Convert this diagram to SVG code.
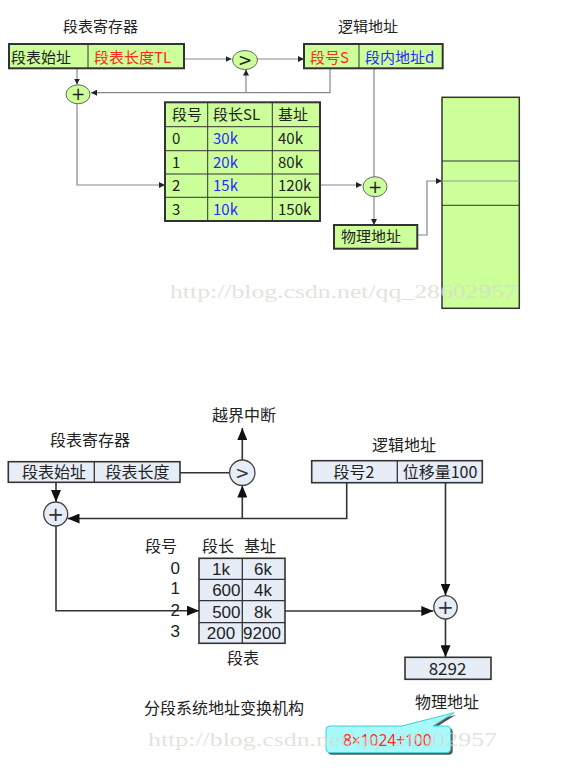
<svg xmlns="http://www.w3.org/2000/svg" width="571" height="783" viewBox="0 0 571 783">
<style>
text{font-family:"Noto Sans CJK SC","Noto Sans",sans-serif;fill:#222}
.t{font-size:15px}
.b{font-size:16px}
.n{font-family:"Liberation Sans",Arial,sans-serif;font-size:17px}
.red{fill:#ff2a1a}
.blue{fill:#2a2aff}
.g{fill:#ccff99;stroke:#333;stroke-width:2}
.gc{fill:#ccff99;stroke:#666;stroke-width:1}
.gl{fill:none;stroke:#888;stroke-width:1.2}
.bx{fill:#e6edf7;stroke:#333;stroke-width:1.6}
.bc{fill:#e6edf7;stroke:#444;stroke-width:1.3}
.bl{fill:none;stroke:#333;stroke-width:1.6}
.op{font-family:"DejaVu Sans",sans-serif;text-anchor:middle}
.wm{font-family:"Liberation Serif",serif;font-size:18px;fill:#d8d8d0;opacity:0.7}
</style>
<defs>
<marker id="sa" markerUnits="userSpaceOnUse" markerWidth="7" markerHeight="6" refX="6" refY="3" orient="auto"><path d="M0,0 L6,3 L0,6 z" fill="#222"/></marker>
<marker id="ba" markerUnits="userSpaceOnUse" markerWidth="13" markerHeight="10" refX="12" refY="5" orient="auto"><path d="M0,0 L12,5 L0,10 z" fill="#111"/></marker>
</defs>

<!-- TOP DIAGRAM -->
<g id="top-connectors">
<path class="gl" d="M184,59 H231.5" marker-end="url(#sa)"/>
<path class="gl" d="M257.5,59 H304" marker-end="url(#sa)"/>
<path class="gl" d="M330,68.3 V92.7 H91" marker-end="url(#sa)"/>
<path class="gl" d="M246,92.7 V69.5" marker-end="url(#sa)"/>
<path class="gl" d="M77,68.3 V84.5" marker-end="url(#sa)"/>
<path class="gl" d="M77,104 V185 H165" marker-end="url(#sa)"/>
<path class="gl" d="M320,185 H362" marker-end="url(#sa)"/>
<path class="gl" d="M374,68.3 V177"/>
<path class="gl" d="M374,196.7 V225" marker-end="url(#sa)"/>
<path class="gl" d="M417,235 H427 V181 H442" marker-end="url(#sa)"/>
</g>
<g id="top-register">
<text class="t" x="63" y="32">段表寄存器</text>
<rect class="g" x="9" y="44" width="175" height="24.3"/>
<line x1="88" y1="44" x2="88" y2="68.3" stroke="#333" stroke-width="1"/>
<text class="t" x="11" y="63">段表始址</text>
<text class="t red" x="94" y="63">段表长度TL</text>
</g>
<g id="top-compare">
<ellipse class="gc" cx="245" cy="60" rx="12.5" ry="9.5"/>
<text class="op" x="245" y="66" style="font-size:17px">&gt;</text>
</g>
<g id="top-plus1">
<ellipse class="gc" cx="78" cy="94.3" rx="12" ry="9.5"/>
<text class="op" x="78" y="100.3" style="font-size:17px">+</text>
</g>
<g id="top-logical">
<text class="t" x="338" y="32">逻辑地址</text>
<rect class="g" x="304" y="44" width="138.7" height="24.3"/>
<line x1="359" y1="44" x2="359" y2="68.3" stroke="#333" stroke-width="1"/>
<text class="t red" x="310" y="63">段号S</text>
<text class="t blue" x="365" y="63">段内地址d</text>
</g>
<g id="top-table">
<rect class="g" x="165" y="102.3" width="155" height="118.7"/>
<g stroke="#333" stroke-width="1">
<line x1="207.7" y1="102.3" x2="207.7" y2="221"/>
<line x1="272.3" y1="102.3" x2="272.3" y2="221"/>
<line x1="165" y1="126.7" x2="320" y2="126.7"/>
<line x1="165" y1="150.7" x2="320" y2="150.7"/>
<line x1="165" y1="174" x2="320" y2="174"/>
<line x1="165" y1="197.3" x2="320" y2="197.3"/>
</g>
<text class="t" x="172" y="120">段号</text><text class="t" x="213" y="120">段长SL</text><text class="t" x="278" y="120">基址</text>
<text class="t" x="172" y="144">0</text><text class="t blue" x="213" y="144">30k</text><text class="t" x="278" y="144">40k</text>
<text class="t" x="172" y="167.5">1</text><text class="t blue" x="213" y="167.5">20k</text><text class="t" x="278" y="167.5">80k</text>
<text class="t" x="172" y="191">2</text><text class="t blue" x="213" y="191">15k</text><text class="t" x="278" y="191">120k</text>
<text class="t" x="172" y="214.5">3</text><text class="t blue" x="213" y="214.5">10k</text><text class="t" x="278" y="214.5">150k</text>
</g>
<g id="top-plus2">
<ellipse class="gc" cx="375" cy="186.7" rx="12" ry="10"/>
<text class="op" x="375" y="192.8" style="font-size:17px">+</text>
</g>
<g id="top-physical">
<rect class="g" x="334" y="225" width="83.3" height="23.7"/>
<text class="t" x="341" y="242">物理地址</text>
</g>
<g id="top-memory">
<rect x="442" y="97.3" width="77.3" height="211" fill="#ccff99" stroke="#333" stroke-width="1.5"/>
<line x1="442" y1="161" x2="519.3" y2="161" stroke="#333" stroke-width="1"/>
<line x1="442" y1="181" x2="519.3" y2="181" stroke="#999" stroke-width="1"/>
<line x1="442" y1="205.3" x2="519.3" y2="205.3" stroke="#333" stroke-width="1"/>
</g>
<text class="wm" x="170" y="298" textLength="347" lengthAdjust="spacingAndGlyphs">http://blog.csdn.net/qq_28602957</text>

<!-- BOTTOM DIAGRAM -->
<g id="bottom-connectors">
<path class="bl" d="M180,472.7 H229.6"/>
<path class="bl" d="M242.3,460 V428" marker-end="url(#ba)"/>
<path class="bl" d="M346.7,482.7 V518.5 H67.5" marker-end="url(#ba)"/>
<path class="bl" d="M242.3,518.5 V485.5" marker-end="url(#ba)"/>
<path class="bl" d="M56,482.3 V502" marker-end="url(#ba)"/>
<path class="bl" d="M56,526 V610.7 H199" marker-end="url(#ba)"/>
<path class="bl" d="M285,611 H433.3" marker-end="url(#ba)"/>
<path class="bl" d="M445.5,482.7 V595.6" marker-end="url(#ba)"/>
<path class="bl" d="M445.5,619 V657.3" marker-end="url(#ba)"/>
</g>
<text class="b" x="212" y="421">越界中断</text>
<g id="bottom-register">
<text class="b" x="50" y="446">段表寄存器</text>
<rect class="bx" x="8.3" y="461.7" width="171.7" height="20.6"/>
<line x1="94.3" y1="461.7" x2="94.3" y2="482.3" stroke="#333" stroke-width="1.3"/>
<text class="b" x="54" y="478" text-anchor="middle">段表始址</text>
<text class="b" x="137.5" y="478" text-anchor="middle">段表长度</text>
</g>
<g id="bottom-compare">
<circle class="bc" cx="242.3" cy="472.7" r="12.7"/>
<text class="op" x="242.3" y="479" style="font-size:17px;fill:#333">&gt;</text>
</g>
<g id="bottom-plus1">
<circle class="bc" cx="55.7" cy="514" r="12"/>
<text class="op" x="55.7" y="520.8" style="font-size:20px;fill:#333">+</text>
</g>
<g id="bottom-logical">
<text class="b" x="372" y="451">逻辑地址</text>
<rect class="bx" x="311.7" y="460.7" width="170.6" height="22"/>
<line x1="397.3" y1="460.7" x2="397.3" y2="482.7" stroke="#333" stroke-width="1.3"/>
<text class="b" x="354" y="477.5" text-anchor="middle">段号2</text>
<text class="b" x="440" y="477.5" text-anchor="middle">位移量100</text>
</g>
<g id="bottom-table">
<text class="b" x="145" y="552">段号</text>
<text class="b" x="202" y="552">段长</text>
<text class="b" x="244" y="552">基址</text>
<text class="n" x="180" y="573.5" text-anchor="end">0</text>
<text class="n" x="180" y="594" text-anchor="end">1</text>
<text class="n" x="180" y="615.7" text-anchor="end">2</text>
<text class="n" x="180" y="637.4" text-anchor="end">3</text>
<rect class="bx" x="199" y="558.3" width="86" height="85"/>
<g stroke="#333" stroke-width="1.3">
<line x1="242.3" y1="558.3" x2="242.3" y2="643.3"/>
<line x1="199" y1="579.3" x2="285" y2="579.3"/>
<line x1="199" y1="600.7" x2="285" y2="600.7"/>
<line x1="199" y1="622.7" x2="285" y2="622.7"/>
</g>
<text class="n" x="221" y="575" text-anchor="middle">1k</text><text class="n" x="263" y="575" text-anchor="middle">6k</text>
<text class="n" x="240.5" y="596.2" text-anchor="end">600</text><text class="n" x="263" y="596.2" text-anchor="middle">4k</text>
<text class="n" x="240.5" y="617.9" text-anchor="end">500</text><text class="n" x="263" y="617.9" text-anchor="middle">8k</text>
<text class="n" x="221" y="639.2" text-anchor="middle">200</text><text class="n" x="262" y="639.2" text-anchor="middle">9200</text>
<text class="b" x="227" y="664">段表</text>
</g>
<g id="bottom-plus2">
<circle class="bc" cx="445.5" cy="607.3" r="11.7"/>
<text class="op" x="445.5" y="614" style="font-size:20px;fill:#333">+</text>
</g>
<g id="bottom-physical">
<rect class="bx" x="405" y="657.3" width="86" height="22"/>
<text x="447.5" y="674.5" text-anchor="middle" style="font-size:17px">8292</text>
<text class="b" x="415" y="708">物理地址</text>
</g>
<text class="b" x="144" y="714">分段系统地址变换机构</text>
<g id="callout">
<path d="M333,728 H404 L456,714.7 L435,728 H448.7 Q452.7,728 452.7,732 V750.7 Q452.7,754.7 448.7,754.7 H332 Q328,754.7 328,750.7 V732 Q328,728 332,728 Z" fill="#555"/>
<path d="M331,726 H402 L454,712.7 L433,726 H446.7 Q450.7,726 450.7,730 V748.7 Q450.7,752.7 446.7,752.7 H330 Q326,752.7 326,748.7 V730 Q326,726 330,726 Z" fill="#a8fafa" stroke="#3cd0d0" stroke-width="1"/>
<text x="343" y="746" style="font-family:'Noto Sans','DejaVu Sans',sans-serif;font-size:15.5px" class="red">8×1024+100</text>
</g>
<text class="wm" x="148" y="746" textLength="349" lengthAdjust="spacingAndGlyphs">http://blog.csdn.net/qq_28602957</text>
</svg>
